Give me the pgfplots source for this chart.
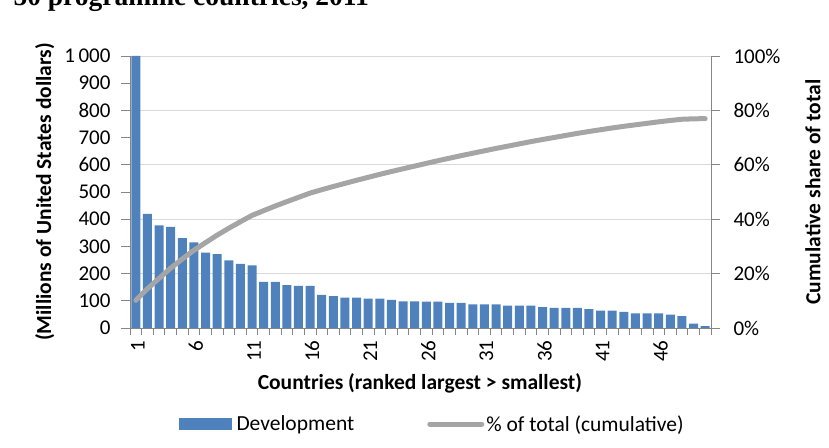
\documentclass[border=0pt]{standalone}
\usepackage{fontspec}
\setmainfont{Carlito}
\newfontfamily\titlefont{Liberation Serif}
\usepackage{pgfplots}
\pgfplotsset{compat=1.18}
\usepackage{pgfplotstable}

\definecolor{barblue}{HTML}{4F81BD}
\definecolor{linegray}{HTML}{A5A5A5}
\definecolor{gridgray}{HTML}{D9D9D9}
\definecolor{axisgray}{HTML}{868686}

% rank, development (millions USD), cumulative share (%)
\pgfplotstableread{
k dev cum
1 1000 10.15
2 420 14.42
3 377 18.24
4 372 22.02
5 330 25.37
6 315 28.57
7 277 31.38
8 272 34.14
9 249 36.67
10 236 39.07
11 230 41.40
12 170 43.13
13 170 44.85
14 158 46.46
15 155 48.03
16 155 49.60
17 122 50.84
18 117 52.03
19 112 53.17
20 112 54.31
21 108 55.40
22 108 56.50
23 103 57.54
24 98 58.54
25 98 59.53
26 97 60.52
27 97 61.50
28 92 62.44
29 92 63.37
30 87 64.25
31 87 65.14
32 87 66.02
33 82 66.85
34 82 67.69
35 82 68.52
36 77 69.30
37 74 70.05
38 74 70.80
39 74 71.55
40 69 72.25
41 64 72.90
42 64 73.55
43 59 74.15
44 54 74.70
45 54 75.25
46 54 75.80
47 49 76.29
48 44 76.74
49 16 76.90
50 7 76.97
}\devdata

\pgfplotsset{
  base/.style={
    scale only axis, width=581pt, height=272pt,
    at={(130pt,119pt)}, anchor=south west,
    xmin=0.5, xmax=50.5,
    font=\fontsize{21.5}{24}\selectfont,
    tick label style={font=\fontsize{21}{24}\selectfont},
    /pgf/number format/assume math mode=true,
    axis line style={axisgray, line width=0.8pt},
    tick style={axisgray, line width=0.8pt},
    tick align=outside,
  },
}

\begin{document}
\begin{tikzpicture}[x=1pt,y=1pt]
\useasboundingbox (0,0) rectangle (829,447);
\node[anchor=base west, font=\titlefont\bfseries\fontsize{27.5}{30}\selectfont]
  at (10,441) {50 programme countries, 2011};

% right axis + gridlines (behind the bars)
\begin{axis}[base,
  ymin=0, ymax=100,
  axis x line=none, axis y line*=right,
  ytick={0,20,...,100},
  yticklabels={0\%,20\%,40\%,60\%,80\%,100\%},
  major tick length=9pt,
  ymajorgrids, grid style={gridgray, line width=0.8pt},
  yticklabel style={anchor=west, xshift=10pt},
  ylabel={\bfseries Cumulative share of total},
  every axis y label/.style={at={(axis description cs:1.1618,0.5)}, rotate=90, anchor=north, inner sep=0pt},
]
\end{axis}

% bars, left axis, x axis
\begin{axis}[base,
  ymin=0, ymax=1000,
  axis y line*=left, axis x line*=bottom,
  ytick={0,100,...,1000},
  yticklabels={0,100,200,300,400,500,600,700,800,900,1\,000},
  yticklabel style={anchor=east, xshift=-7pt},
  xtick={1,6,...,46},
  minor xtick={0.5,1.5,...,50.5},
  major x tick style={draw=none},
  minor x tick style={axisgray},
  major tick length=9pt, minor tick length=7pt,
  xticklabel style={rotate=90, anchor=east, yshift=-2pt},
  ylabel={\bfseries (Millions of United States dollars)},
  every axis y label/.style={at={(axis description cs:-0.1635,0.5)}, rotate=90, anchor=north, inner sep=0pt},
  xlabel={\bfseries Countries (ranked largest > smallest)},
  every axis x label/.style={at={(axis description cs:0.499,-0.205)}, anchor=center},
  clip=true,
]
\addplot[ybar, bar width=9pt, fill=barblue, draw=none] table[x=k, y=dev] {\devdata};
\end{axis}

% cumulative line and legend
\begin{axis}[base,
  ymin=0, ymax=100, hide axis,
  legend columns=2,
  legend style={draw=none, fill=none, at={(axis description cs:0.5207,-0.353)}, anchor=center,
    font=\fontsize{21.5}{24}\selectfont,
    /tikz/every even column/.append style={column sep=71pt}},
]
\addlegendimage{legend image code/.code={\fill[barblue] (0pt,-5.5pt) rectangle (52pt,5.5pt); \path[draw=none, fill=none] (0pt,0pt) -- (55pt,0pt);}}
\addlegendentry{Development}
\addplot[linegray, line width=5pt, line cap=round, line join=round, no marks,
  legend image code/.code={\draw[linegray, line width=5pt, line cap=round] (2pt,0pt) -- (54pt,0pt);}]
  table[x=k, y=cum] {\devdata};
\addlegendentry{\% of total (cumulative)}
\end{axis}
\end{tikzpicture}
\end{document}
